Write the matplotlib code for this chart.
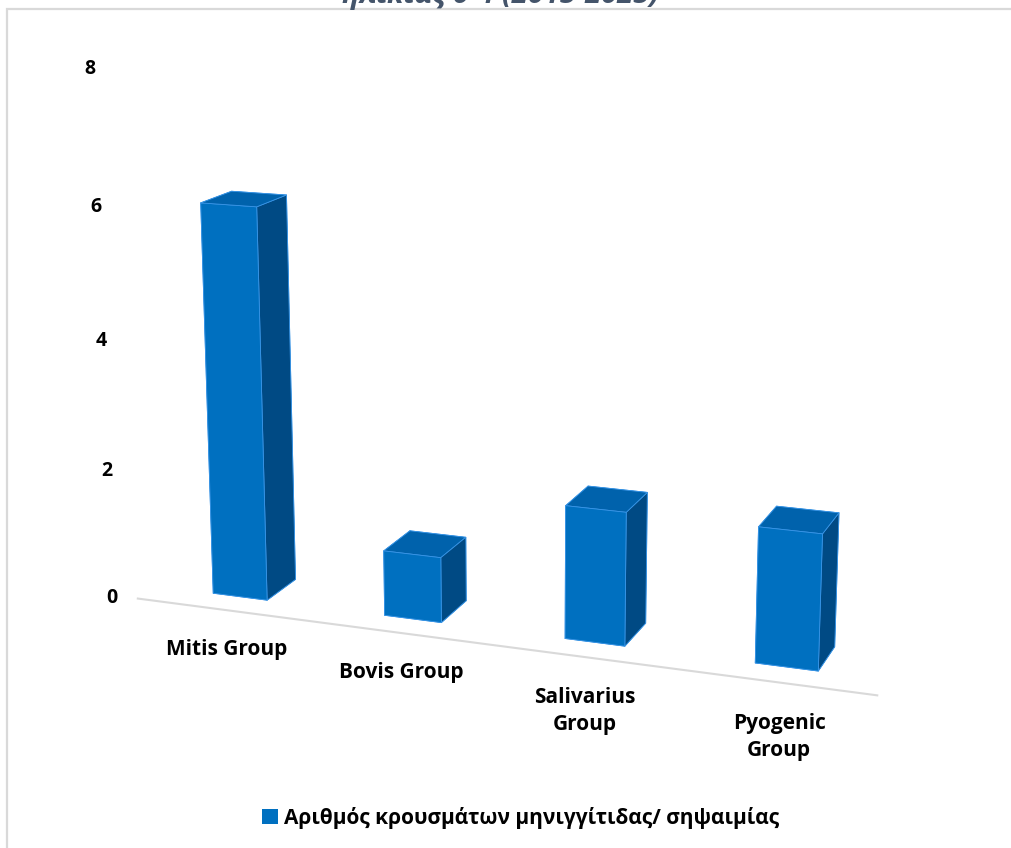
import matplotlib
matplotlib.use("Agg")
import matplotlib.pyplot as plt
import numpy as np
from matplotlib.patches import Rectangle
from mpl_toolkits.mplot3d import Axes3D  # noqa: F401

# ──────────────────────────────────────────────
# Data
# ──────────────────────────────────────────────

groups = ["Mitis Group", "Bovis Group", "Salivarius\nGroup", "Pyogenic\nGroup"]
cases = [6, 1, 2, 2]
y_ticks = [0, 2, 4, 6, 8]
series_name = "Αριθμός κρουσμάτων μηνιγγίτιδας/ σηψαιμίας"
title_line = "ηλικίας 0-4 (2015-2025)"

FRONT = "#0070C0"
TOP = "#0062AC"
SIDE = "#004A84"
EDGE = "#3A95E6"
FLOOR = "#D9D9D9"

plt.rcParams["font.family"] = ["Open Sans", "Noto Sans", "DejaVu Sans"]

fig = plt.figure(figsize=(10.11, 8.48), dpi=100)

# chart frame
fig.patches.append(Rectangle((7 / 1011, -0.02), 1.1, 1.02 - 9 / 848, fill=False,
                             ec=FLOOR, lw=1.6, transform=fig.transFigure))
fig.text(0.495, 1 - 3 / 848, title_line, ha="center", va="baseline",
         fontsize=21, fontweight="bold", fontstyle="italic", color="#44546A")

ax = fig.add_axes([0.008, 0.1265, 1.0, 0.9], projection="3d")
ax.set_proj_type("persp", focal_length=0.6)
ax.view_init(elev=14, azim=-70)

n = len(cases)
xs = np.arange(n)
bar_w = 0.32
depth = 3.0
bar_y = 0.6
bar_d = 1.0

ax.set_xlim(-0.5, n - 0.5)
ax.set_ylim(0, depth)
ax.set_zlim(0, 8)
ax.set_box_aspect((845, 225, 600), zoom=1.245)
ax.set_axis_off()

# face order per bar: bottom, top, front, back, left, right
face_colors = []
for _ in cases:
    face_colors += [FRONT, TOP, FRONT, FRONT, FRONT, SIDE]

ax.bar3d(xs - bar_w / 2, np.full(n, bar_y), np.zeros(n), bar_w, bar_d, cases,
         color=face_colors, shade=False, edgecolor=EDGE, linewidth=0.6)

# floor front edge
ax.plot([-0.5, n - 0.5], [0, 0], [0, 0], color=FLOOR, lw=1.5)

for t in y_ticks:
    ax.text(-0.62, 0, t, str(t), ha="right", va="center_baseline",
            fontsize=14, fontweight="bold", color="black")

for i, g in enumerate(groups):
    ax.text(i + 0.02, 0, -0.45, g, ha="center", va="top", fontsize=15,
            fontweight="bold", color="black", linespacing=1.35)

handle = Rectangle((0, 0), 1, 1, fc=FRONT, ec="none")
fig.legend([handle], [series_name], loc="center", bbox_to_anchor=(0.515, 1 - 818 / 848),
           frameon=False, handlelength=0.75, handleheight=0.75, handletextpad=0.3,
           prop={"size": 15, "weight": "bold"})

fig.savefig("out.png", dpi=100)
